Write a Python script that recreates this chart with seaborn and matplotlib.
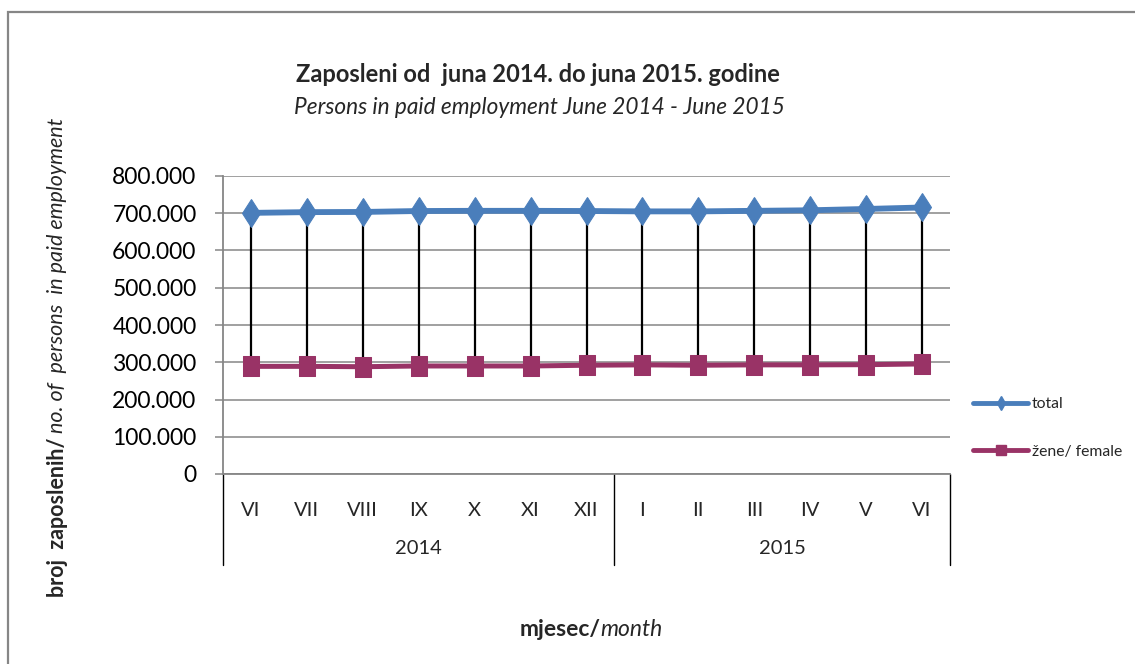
import matplotlib
matplotlib.use("Agg")
import matplotlib.pyplot as plt
import matplotlib.transforms as mtransforms
from matplotlib.lines import Line2D
from matplotlib.patches import Rectangle
import seaborn as sns
import pandas as pd

months = ["VI", "VII", "VIII", "IX", "X", "XI", "XII", "I", "II", "III", "IV", "V", "VI"]
years = ["2014", "2015"]
year_spans = [(0, 6), (7, 12)]
total = [701000, 703000, 703500, 706000, 706500, 706500, 706000, 705000, 705000, 706500, 708000, 711500, 715500]
female = [289000, 289000, 288000, 290000, 290000, 290000, 292000, 293000, 292000, 293000, 293000, 293500, 295500]
yticks = [0, 100000, 200000, 300000, 400000, 500000, 600000, 700000, 800000]

sns.set_theme(style="white")
plt.rcParams['font.family'] = ['Lato', 'DejaVu Sans']

C_TOTAL = '#4A7EBB'
C_FEM = '#993366'
GRID = '#868686'

fig = plt.figure(figsize=(11.35, 6.64), dpi=100)
fig.patch.set_facecolor('white')
W, H = 1135, 664
ax = fig.add_axes([223 / W, 1 - 474 / H, (950 - 223) / W, (474 - 176) / H])

df = pd.DataFrame({"x": list(range(len(months))), "total": total, "female": female})

# drop (high-low) lines
ax.vlines(df["x"], df["female"], df["total"], color='black', lw=1.6, zorder=2)

square = [(-0.78, -1), (0.78, -1), (0.78, 1), (-0.78, 1), (-0.78, -1)]
sns.lineplot(data=df, x="x", y="total", ax=ax, color=C_TOTAL, lw=4.2, marker='d',
             markersize=14.5, markeredgecolor=C_TOTAL, markerfacecolor=C_TOTAL,
             sort=False, legend=False, zorder=3)
sns.lineplot(data=df, x="x", y="female", ax=ax, color=C_FEM, lw=3.6, marker=square,
             markersize=15, markeredgecolor=C_FEM, markerfacecolor=C_FEM,
             sort=False, legend=False, zorder=3)

ax.set_xlim(-0.5, len(months) - 0.5)
ax.set_ylim(0, 800000)
ax.set_yticks(yticks)
ax.set_yticklabels([f"{v:,}".replace(",", ".") for v in yticks], fontsize=16.5)
ax.yaxis.grid(True, color=GRID, lw=1.1)
ax.set_axisbelow(True)
ax.tick_params(axis='y', length=6, width=1.1, color=GRID, pad=13, left=True, labelcolor='black')
ax.set_xticks(range(len(months)))
ax.set_xticklabels(months, fontsize=14.5)
ax.tick_params(axis='x', length=0, pad=20)
ax.set_xlabel("")
ax.set_ylabel("")
for s in ['top', 'right']:
    ax.spines[s].set_visible(False)
for s in ['left', 'bottom']:
    ax.spines[s].set_color(GRID)
    ax.spines[s].set_linewidth(1.3)

blend = mtransforms.blended_transform_factory(ax.transData, ax.transAxes)
depth = (565 - 474) / (474 - 176)
for xs in [-0.5, 6.5, len(months) - 0.5]:
    ax.plot([xs, xs], [0, -depth], transform=blend, color='black', lw=1.0, clip_on=False)
ylab = -(548 - 474) / (474 - 176)
for yr, (a, b) in zip(years, year_spans):
    ax.text((a + b) / 2, ylab, yr, transform=blend, ha='center', va='center', fontsize=14.5)

# legend
handles = [Line2D([], [], color=C_TOTAL, lw=3.5, marker='d', markersize=7),
           Line2D([], [], color=C_FEM, lw=3.5, marker='s', markersize=7)]
leg = fig.legend(handles, ["total", "žene/ female"], loc='center left',
                 bbox_to_anchor=(959 / W, 1 - 428 / H), frameon=False, fontsize=11.3,
                 handlelength=3.5, handletextpad=0.25, labelspacing=2.15)

# titles
fig.text(538 / W, 1 - 74 / H, "Zaposleni od  juna 2014. do juna 2015. godine",
         ha='center', va='center', fontsize=17, fontweight='bold')
fig.text(539 / W, 1 - 107 / H, "Persons in paid employment June 2014 - June 2015",
         ha='center', va='center', fontsize=16.3, fontstyle='italic')

fig.canvas.draw()
r = fig.canvas.get_renderer()
# x label (bold + italic)
t1 = fig.text(0, 1 - 629 / H, "mjesec/", ha='left', va='center', fontsize=16.5, fontweight='bold')
t2 = fig.text(0, 1 - 629 / H, "month", ha='left', va='center', fontsize=16.5, fontstyle='italic')
w1 = t1.get_window_extent(r).width
w2 = t2.get_window_extent(r).width
start = 591 - (w1 + w2) / 2
t1.set_x(start / W)
t2.set_x((start + w1) / W)

# y label (bold + italic), rotated
y1 = fig.text(57 / W, 1 - 597 / H, "broj  zaposlenih/", rotation=90, ha='center', va='bottom',
              fontsize=15.5, fontweight='bold')
h1 = y1.get_window_extent(r).height
y2 = fig.text(57 / W, (1 - 597 / H) + h1 / H, " no. of  persons  in paid employment", rotation=90,
              ha='center', va='bottom', fontsize=15.5, fontstyle='italic')

# outer border
fig.add_artist(Rectangle((8 / W, -0.2), 1.3, 1.2 - 12 / H, transform=fig.transFigure,
                         fill=False, edgecolor=GRID, lw=1.6))

fig.savefig("out.png", dpi=100, facecolor='white')
